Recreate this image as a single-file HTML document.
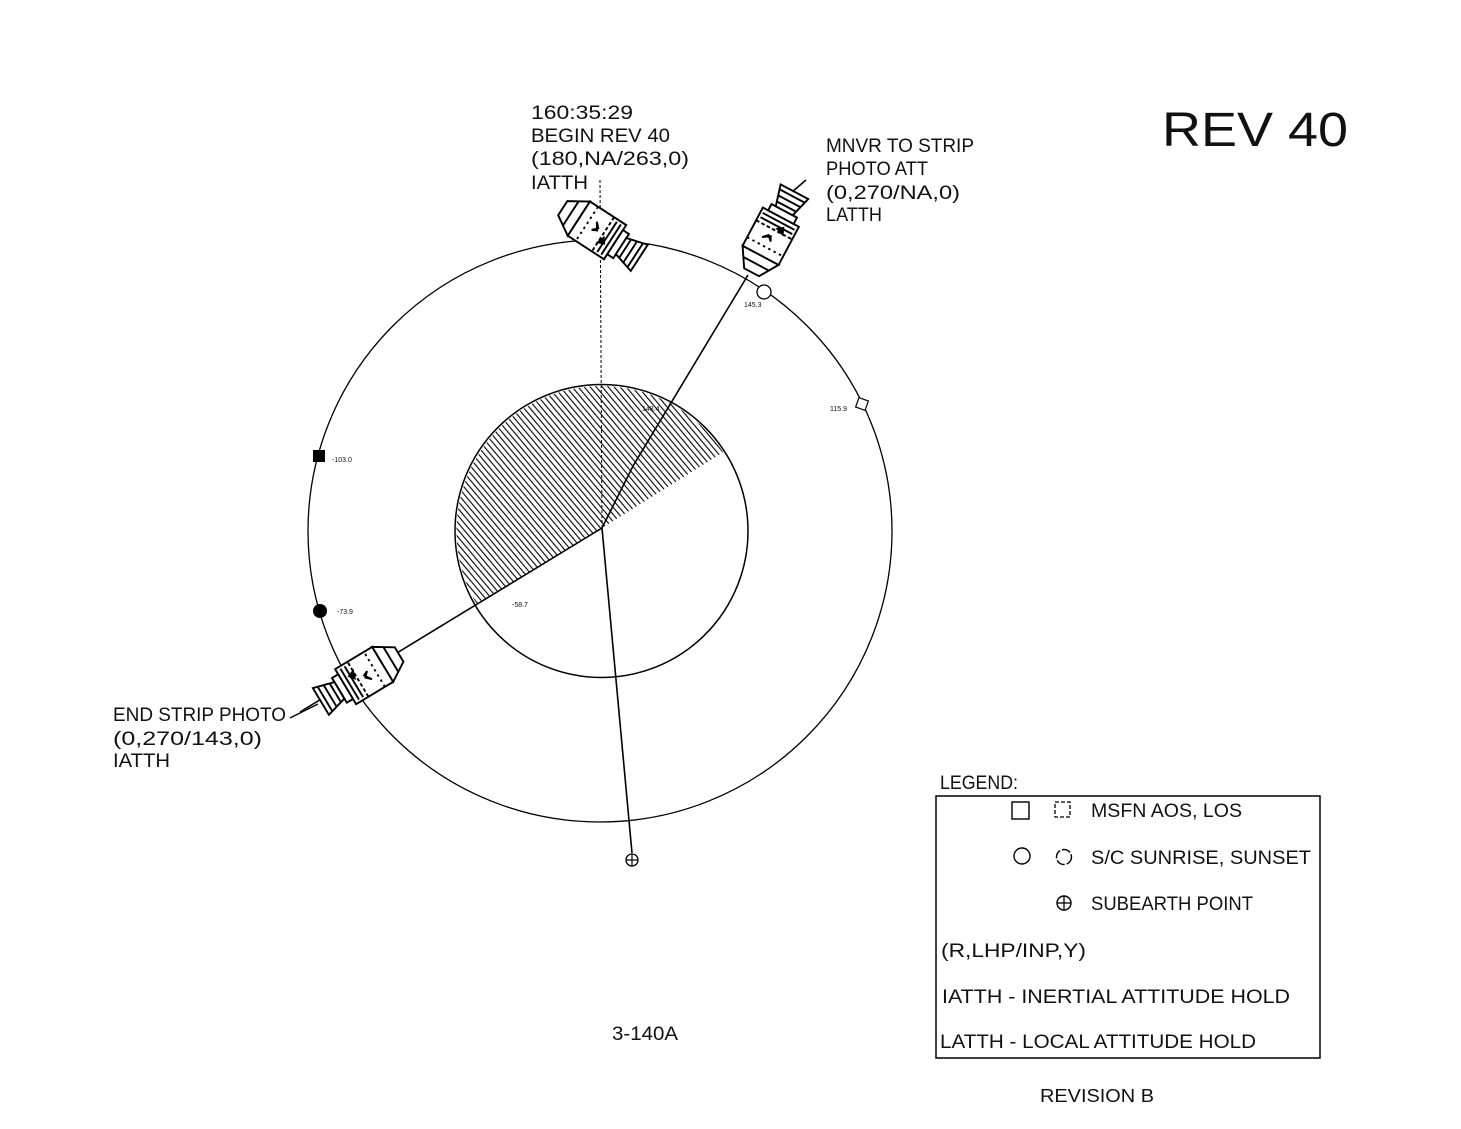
<!DOCTYPE html>
<html><head><meta charset="utf-8"><style>
html,body{margin:0;padding:0;background:#fff}
svg{display:block}
text{font-family:"Liberation Sans Narrow","Liberation Sans",sans-serif;fill:#111}
</style></head><body>
<svg width="1461" height="1129" viewBox="0 0 1461 1129" xmlns="http://www.w3.org/2000/svg">
<defs>
<pattern id="h" width="4.6" height="10" patternUnits="userSpaceOnUse" patternTransform="rotate(-40)">
<line x1="1" y1="0" x2="1" y2="10" stroke="#000" stroke-width="1.1"/>
</pattern>
<clipPath id="c"><circle cx="601.5" cy="531" r="145"/></clipPath>
<g id="csm" stroke="#000" stroke-width="1.6" fill="#fff">
<polygon points="-38,-7 -22,-17 -22,17 -38,7"/>
<rect x="-22" y="-17" width="36" height="34"/>
<rect x="14" y="-12" width="6" height="24"/>
<polygon points="20,-8 38,-13 38,13 20,8"/>
<line x1="24" y1="-9" x2="24" y2="9"/><line x1="29" y1="-11" x2="29" y2="11"/><line x1="34" y1="-12" x2="34" y2="12"/>
<line x1="-30" y1="-12" x2="-30" y2="12"/>
<line x1="-14" y1="-17" x2="-14" y2="17" stroke-dasharray="2 3"/>
<line x1="2" y1="-17" x2="2" y2="17" stroke-dasharray="3 2"/>
<path d="M-8,-6 l4,4 l-4,4 l4,-2 z M4,2 l3,4 l-5,2z" fill="#000"/>
<line x1="6" y1="-15" x2="6" y2="15"/><line x1="10" y1="-15" x2="10" y2="15"/>
</g>
</defs>

<ellipse cx="600" cy="531" rx="292" ry="291" fill="none" stroke="#000" stroke-width="1.3"/>
<path d="M602,528 L476.4,603.5 A146.5,146.5 0 0 1 726.2,450.4 Z" fill="url(#h)" clip-path="url(#c)"/>
<circle cx="601.5" cy="531" r="146.5" fill="none" stroke="#000" stroke-width="1.5"/>

<line x1="600" y1="180" x2="602" y2="528" stroke="#000" stroke-width="1" stroke-dasharray="3 2"/>
<polyline points="602,528 633,466 748,275" fill="none" stroke="#000" stroke-width="1.6"/>
<line x1="602" y1="528" x2="300" y2="712" stroke="#000" stroke-width="1.6"/>
<line x1="602" y1="528" x2="632" y2="853" stroke="#000" stroke-width="1.6"/>
<circle cx="632" cy="860" r="6" fill="#fff" stroke="#000" stroke-width="1.3"/>
<line x1="626" y1="860" x2="638" y2="860" stroke="#000" stroke-width="1.2"/>
<line x1="632" y1="854" x2="632" y2="866" stroke="#000" stroke-width="1.2"/>

<use href="#csm" transform="translate(601,233) rotate(33) scale(1.2)"/>
<line x1="785" y1="198" x2="806" y2="180" stroke="#000" stroke-width="1.6"/>
<use href="#csm" transform="translate(773,232) rotate(-62) scale(1.2)"/>
<use href="#csm" transform="translate(360,678) rotate(149) scale(1.2)"/>
<line x1="290" y1="718" x2="318" y2="704" stroke="#000" stroke-width="1.3"/>

<rect x="313" y="450" width="12" height="12" fill="#000"/>
<text x="332" y="462" font-size="7">-103.0</text>
<circle cx="320" cy="611" r="7" fill="#000"/>
<text x="337" y="614" font-size="7">-73.9</text>
<circle cx="764" cy="292" r="7" fill="#fff" stroke="#000" stroke-width="1.3"/>
<text x="744" y="307" font-size="7">145.3</text>
<rect x="857" y="399" width="10" height="10" fill="#fff" stroke="#000" stroke-width="1.2" transform="rotate(20 862 404)"/>
<text x="830" y="411" font-size="7">115.9</text>
<text x="642" y="411" font-size="7">148.4</text>
<text x="512" y="607" font-size="7">-58.7</text>

<g font-size="19">
<text x="531" y="119" textLength="102" lengthAdjust="spacingAndGlyphs">160:35:29</text>
<text x="531" y="142" textLength="139" lengthAdjust="spacingAndGlyphs">BEGIN REV 40</text>
<text x="531" y="165" textLength="158" lengthAdjust="spacingAndGlyphs">(180,NA/263,0)</text>
<text x="531" y="189" textLength="57" lengthAdjust="spacingAndGlyphs">IATTH</text>
<text x="826" y="152" textLength="148" lengthAdjust="spacingAndGlyphs">MNVR TO STRIP</text>
<text x="826" y="175" textLength="102" lengthAdjust="spacingAndGlyphs">PHOTO ATT</text>
<text x="826" y="199" textLength="134" lengthAdjust="spacingAndGlyphs">(0,270/NA,0)</text>
<text x="826" y="221" textLength="56" lengthAdjust="spacingAndGlyphs">LATTH</text>
<text x="113" y="721" textLength="173" lengthAdjust="spacingAndGlyphs">END STRIP PHOTO</text>
<text x="113" y="745" textLength="149" lengthAdjust="spacingAndGlyphs">(0,270/143,0)</text>
<text x="113" y="767" textLength="57" lengthAdjust="spacingAndGlyphs">IATTH</text>
<text x="612" y="1040" textLength="66" lengthAdjust="spacingAndGlyphs">3-140A</text>
<text x="1040" y="1102" font-size="18" textLength="114" lengthAdjust="spacingAndGlyphs">REVISION B</text>
<text x="940" y="789" textLength="78" lengthAdjust="spacingAndGlyphs">LEGEND:</text>
</g>
<text x="1162" y="146" font-size="48" font-family="Liberation Sans,sans-serif" textLength="186" lengthAdjust="spacingAndGlyphs">REV 40</text>

<rect x="936" y="796" width="384" height="262" fill="none" stroke="#000" stroke-width="1.5"/>
<rect x="1012" y="802" width="17" height="17" fill="none" stroke="#000" stroke-width="1.4"/>
<rect x="1055" y="802" width="15" height="15" fill="none" stroke="#000" stroke-width="1.3" stroke-dasharray="4 2"/>
<circle cx="1022" cy="856" r="8" fill="none" stroke="#000" stroke-width="1.4"/>
<circle cx="1064" cy="857" r="7.5" fill="none" stroke="#000" stroke-width="1.4" stroke-dasharray="9 2"/>
<circle cx="1064" cy="903" r="7" fill="none" stroke="#000" stroke-width="1.4"/>
<line x1="1057" y1="903" x2="1071" y2="903" stroke="#000" stroke-width="1.3"/>
<line x1="1064" y1="896" x2="1064" y2="910" stroke="#000" stroke-width="1.3"/>
<g font-size="19">
<text x="1091" y="817" textLength="151" lengthAdjust="spacingAndGlyphs">MSFN AOS, LOS</text>
<text x="1091" y="864" textLength="220" lengthAdjust="spacingAndGlyphs">S/C SUNRISE, SUNSET</text>
<text x="1091" y="910" textLength="162" lengthAdjust="spacingAndGlyphs">SUBEARTH POINT</text>
<text x="941" y="957" textLength="145" lengthAdjust="spacingAndGlyphs">(R,LHP/INP,Y)</text>
<text x="942" y="1003" textLength="348" lengthAdjust="spacingAndGlyphs">IATTH - INERTIAL ATTITUDE HOLD</text>
<text x="940" y="1048" textLength="316" lengthAdjust="spacingAndGlyphs">LATTH - LOCAL ATTITUDE HOLD</text>
</g>
</svg>
</body></html>
